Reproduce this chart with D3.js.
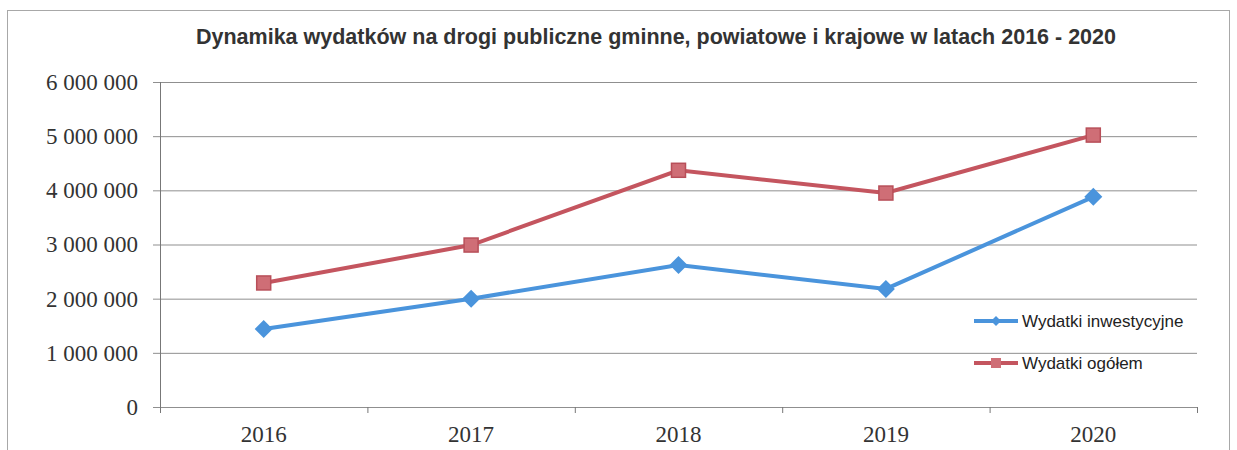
<!DOCTYPE html>
<html>
<head>
<meta charset="utf-8">
<script src="https://cdn.jsdelivr.net/npm/d3@7"></script>
<style>
  body { margin: 0; background: #fff; }
  svg { display: block; }
</style>
</head>
<body>
<div id="chart"></div>
<script>
var years = ["2016", "2017", "2018", "2019", "2020"];
var inwestycyjne = [1440000, 2000000, 2620000, 2180000, 3880000];
var ogolem = [2290000, 2990000, 4370000, 3950000, 5020000];
var yTicks = [0, 1000000, 2000000, 3000000, 4000000, 5000000, 6000000];
var seriesNames = ["Wydatki inwestycyjne", "Wydatki ogółem"];
var title = "Dynamika wydatków na drogi publiczne gminne, powiatowe i krajowe w latach 2016 - 2020";

var colorBlue = "#4a94dc";
var colorRed = "#c4555f";

var width = 1237, height = 450;
var plotLeft = 160, plotRight = 1197, plotTop = 82, plotBottom = 407;

var svg = d3.select("#chart")
    .append("svg")
    .attr("width", width)
    .attr("height", height);

// ramka wykresu
svg.append("rect")
    .attr("x", 7.5)
    .attr("y", 10.5)
    .attr("width", 1222)
    .attr("height", 460)
    .attr("fill", "none")
    .attr("stroke", "#a8a8a8");

svg.append("text")
    .attr("x", 656)
    .attr("y", 44)
    .attr("text-anchor", "middle")
    .attr("font-family", "Liberation Sans, Arial, sans-serif")
    .attr("font-weight", "bold")
    .attr("font-size", 21.5)
    .attr("fill", "#333")
    .text(title);

var locale = d3.formatLocale({ decimal: ",", thousands: " ", grouping: [3], currency: ["", ""] });
var format = locale.format(",d");

var y = d3.scaleLinear().domain([0, 6000000]).range([plotBottom, plotTop]);
var x = d3.scaleBand().domain(years).range([plotLeft, plotRight]);
var xEdges = d3.scaleLinear().domain([0, years.length]).range([plotLeft, plotRight]);

function cx(i) {
    return x(years[i]) + x.bandwidth() / 2;
}

// linie siatki
var grid = svg.append("g")
    .attr("transform", "translate(" + plotLeft + ",0)")
    .call(d3.axisLeft(y).tickValues(yTicks).tickSize(-(plotRight - plotLeft)).tickFormat(""));
grid.select(".domain").remove();
grid.selectAll("line").attr("stroke", "#8f8f8f");

var yAxis = svg.append("g")
    .attr("transform", "translate(" + plotLeft + ",0)")
    .call(d3.axisLeft(y).tickValues(yTicks).tickSize(7).tickPadding(15).tickFormat(format));
yAxis.select(".domain").attr("stroke", "#777").attr("d", "M0.5," + plotTop + "V" + plotBottom);
yAxis.selectAll("line").attr("stroke", "#8f8f8f");
yAxis.selectAll("text")
    .attr("font-family", "Liberation Serif, Times New Roman, serif")
    .attr("font-size", 23)
    .attr("fill", "#333");

var xTicks = svg.append("g")
    .attr("transform", "translate(0," + plotBottom + ")")
    .call(d3.axisBottom(xEdges).tickValues(d3.range(years.length + 1)).tickSize(6).tickFormat(""));
xTicks.select(".domain").attr("stroke", "#8f8f8f");
xTicks.selectAll("line").attr("stroke", "#777");

var xAxis = svg.append("g")
    .attr("transform", "translate(0," + plotBottom + ")")
    .call(d3.axisBottom(x).tickSize(0).tickPadding(19));
xAxis.select(".domain").remove();
xAxis.selectAll("text")
    .attr("font-family", "Liberation Serif, Times New Roman, serif")
    .attr("font-size", 23)
    .attr("fill", "#333");

var line = d3.line()
    .x(function (d, i) { return cx(i); })
    .y(function (d) { return y(d); });

// Wydatki ogółem
svg.append("path")
    .datum(ogolem)
    .attr("d", line)
    .attr("fill", "none")
    .attr("stroke", colorRed)
    .attr("stroke-width", 4);

svg.selectAll(".sq")
    .data(ogolem)
    .enter().append("rect")
    .attr("class", "sq")
    .attr("x", function (d, i) { return cx(i) - 7; })
    .attr("y", function (d) { return y(d) - 7; })
    .attr("width", 14)
    .attr("height", 14)
    .attr("fill", "#cf6e76")
    .attr("stroke", "#b84f59")
    .attr("stroke-width", 1.5);

// Wydatki inwestycyjne
svg.append("path")
    .datum(inwestycyjne)
    .attr("d", line)
    .attr("fill", "none")
    .attr("stroke", colorBlue)
    .attr("stroke-width", 4);

svg.selectAll(".dm")
    .data(inwestycyjne)
    .enter().append("path")
    .attr("class", "dm")
    .attr("transform", function (d, i) { return "translate(" + cx(i) + "," + y(d) + ")"; })
    .attr("d", "M0,-9L9,0L0,9L-9,0Z")
    .attr("fill", colorBlue);

// legenda
var legend = svg.append("g");
var legendY = [321, 363];
var legendColors = [colorBlue, colorRed];
seriesNames.forEach(function (name, i) {
    var g = legend.append("g").attr("transform", "translate(974," + legendY[i] + ")");
    g.append("line")
        .attr("x1", 0).attr("x2", 44)
        .attr("stroke", legendColors[i])
        .attr("stroke-width", 4);
    if (i === 0) {
        g.append("path").attr("d", "M22,-5L27,0L22,5L17,0Z").attr("fill", colorBlue);
    } else {
        g.append("rect").attr("x", 17).attr("y", -5).attr("width", 10).attr("height", 10)
            .attr("fill", "#cf6e76");
    }
    g.append("text")
        .attr("x", 48)
        .attr("dy", "0.35em")
        .attr("font-family", "Liberation Sans, Arial, sans-serif")
        .attr("font-size", 17)
        .attr("fill", "#222")
        .text(name);
});
</script>
</body>
</html>
